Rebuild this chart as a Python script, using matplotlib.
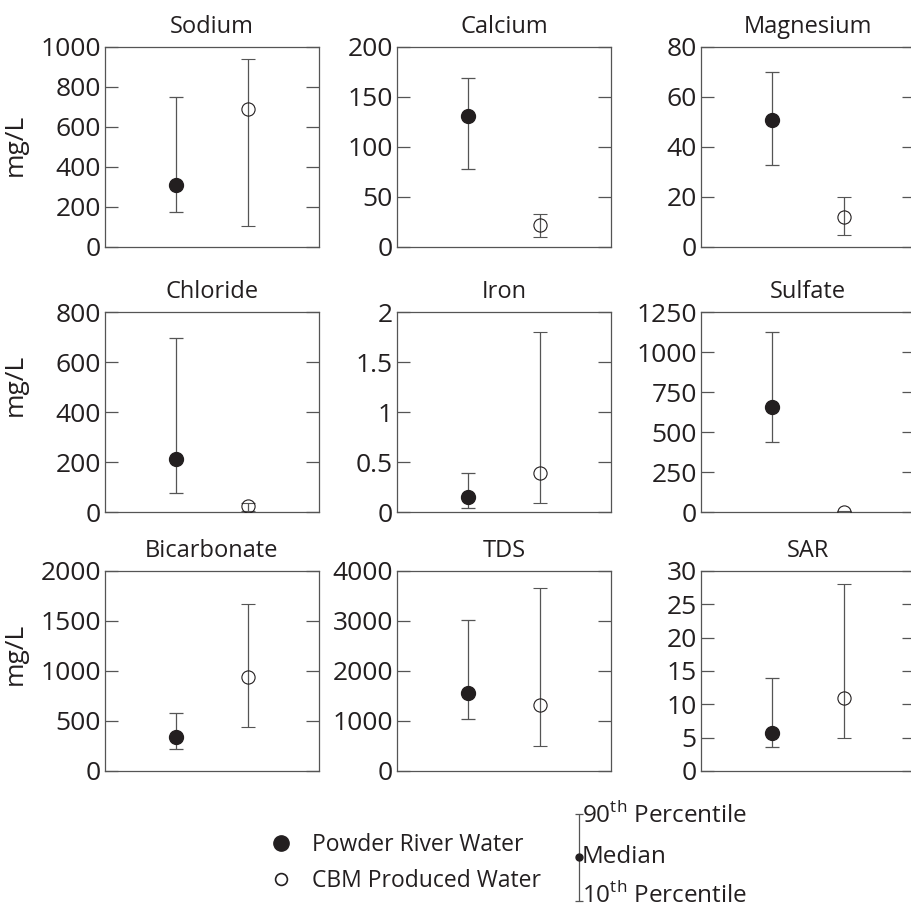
import numpy as np
import matplotlib
matplotlib.use('Agg')
import matplotlib.pyplot as plt
from matplotlib.lines import Line2D
from matplotlib.ticker import FuncFormatter

# 数据: 中位数, 第10百分位, 第90百分位
titles = ['Sodium', 'Calcium', 'Magnesium',
          'Chloride', 'Iron', 'Sulfate',
          'Bicarbonate', 'TDS', 'SAR']
river_med = [308, 131, 51, 211, 0.15, 659, 343, 1551, 5.7]
river_p10 = [173, 78, 33, 76, 0.04, 439, 220, 1043, 3.6]
river_p90 = [750, 169, 70, 698, 0.395, 1127, 583, 3030, 14.0]
cbm_med = [692, 22.4, 11.9, 25, 0.395, 2, 943, 1327, 11.0]
cbm_p10 = [107, 9.9, 5.0, 5, 0.09, 0, 437, 495, 5.0]
cbm_p90 = [942, 33, 19.9, 38, 1.80, 5, 1667, 3663, 28.0]
y_max = [1000, 200, 80, 800, 2, 1250, 2000, 4000, 30]
y_step = [200, 50, 20, 200, 0.5, 250, 500, 1000, 5]

ink = '#231f20'
line_c = '#555555'
plt.rcParams['font.family'] = ['Open Sans', 'DejaVu Sans']
plt.rcParams['mathtext.fontset'] = 'custom'
plt.rcParams['mathtext.rm'] = 'Open Sans'
plt.rcParams['text.color'] = ink

W, H = 912, 910
fig = plt.figure(figsize=(W / 100, H / 100), dpi=100)

col_left = [105, 397, 701]
row_top = [47, 312, 571]
aw, ah = 214, 200
label_y = [0.51, 0.635, 0.585]

for i, t in enumerate(titles):
    r, c = divmod(i, 3)
    ax = fig.add_axes([col_left[c] / W, (H - row_top[r] - ah) / H, aw / W, ah / H])
    ax.errorbar([1], [river_med[i]],
                yerr=[[river_med[i] - river_p10[i]], [river_p90[i] - river_med[i]]],
                fmt='o', ms=10, mfc=ink, mec=ink, ecolor=line_c, elinewidth=0.9,
                capsize=4.7, capthick=0.9, zorder=3)
    ax.errorbar([2], [cbm_med[i]],
                yerr=[[cbm_med[i] - cbm_p10[i]], [cbm_p90[i] - cbm_med[i]]],
                fmt='o', ms=9.5, mfc='none', mec=ink, mew=0.8, ecolor=line_c,
                elinewidth=0.9, capsize=4.7, capthick=0.9, zorder=3)
    ax.set_xlim(0, 3)
    ax.set_ylim(0, y_max[i])
    ax.set_xticks([])
    ax.set_yticks(np.arange(0, y_max[i] + y_step[i] / 2, y_step[i]))
    ax.yaxis.set_major_formatter(FuncFormatter(lambda v, p: '%g' % v))
    ax.tick_params(axis='y', direction='in', left=True, right=True, length=9.4,
                   width=0.9, color=line_c, labelsize=19, pad=3, labelcolor=ink)
    for s in ax.spines.values():
        s.set_color(line_c)
        s.set_linewidth(0.9)
    ax.set_title(t, fontsize=17, pad=10, color=ink)
    if c == 0:
        ax.set_ylabel('mg/L', fontsize=19, color=ink)
        ax.yaxis.set_label_coords(-0.36, label_y[r])

# 图例
handles = [Line2D([], [], ls='none', marker='o', ms=11, mfc=ink, mec=ink),
           Line2D([], [], ls='none', marker='o', ms=8.5, mfc='none', mec=ink, mew=1.2)]
fig.legend(handles, ['Powder River Water', 'CBM Produced Water'],
           loc='center left', bbox_to_anchor=(247 / W, 1 - 863 / H), frameon=False,
           fontsize=16.5, handlelength=1.2, handletextpad=0.75, labelspacing=0.5)

kax = fig.add_axes([570 / W, 1 - 906 / H, 20 / W, 98 / H])
kax.axis('off')
kax.set_xlim(0, 1)
kax.set_ylim(0, 1)
kax.errorbar([0.45], [0.5], yerr=[[0.45], [0.44]], fmt='o', ms=5, mfc=ink, mec=ink,
             ecolor=line_c, elinewidth=0.9, capsize=3, capthick=0.9, clip_on=False)
kw = dict(fontsize=17.5, va='center', ha='left', transform=kax.transAxes)
kax.text(0.6, 0.92, r'90$^{\mathrm{th}}$ Percentile', **kw)
kax.text(0.6, 0.5, 'Median', **kw)
kax.text(0.6, 0.1, r'10$^{\mathrm{th}}$ Percentile', **kw)

fig.savefig('out.png', dpi=100)
